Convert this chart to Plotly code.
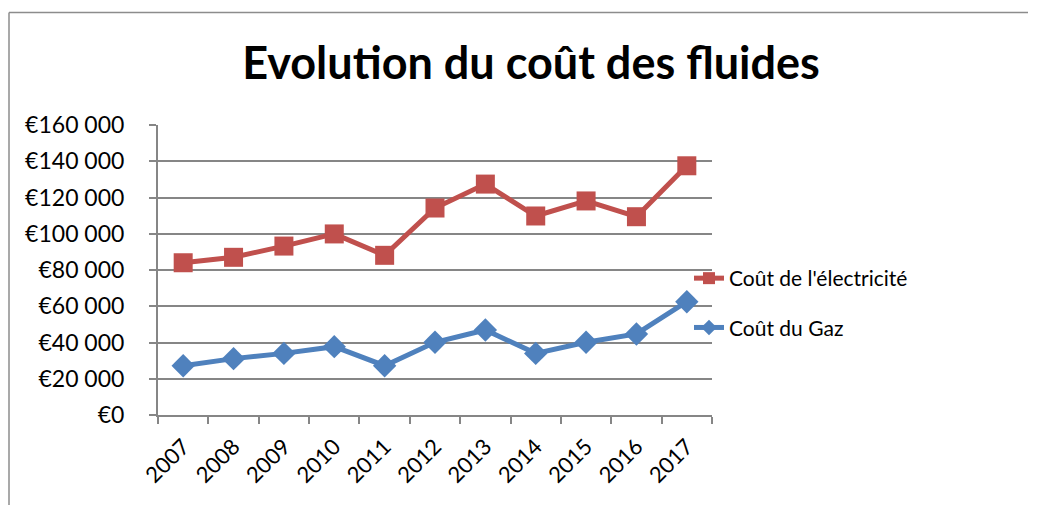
import plotly.graph_objects as go

years = ["2007", "2008", "2009", "2010", "2011", "2012", "2013", "2014", "2015", "2016", "2017"]
elec = [84000, 87000, 93200, 99900, 88100, 114200, 127400, 109800, 118100, 109400, 137500]
gaz = [27200, 31100, 34000, 37700, 27200, 40100, 46900, 34000, 40100, 44700, 62500]
ytick_vals = [0, 20000, 40000, 60000, 80000, 100000, 120000, 140000, 160000]
ytick_text = ["€0", "€20 000", "€40 000", "€60 000", "€80 000", "€100 000", "€120 000", "€140 000", "€160 000"]

FONT = "Lato"
GRID = "#868686"
OFF = 8  # page body margin

fig = go.Figure()
fig.add_trace(go.Scatter(
    x=years, y=elec, name="Coût de l'électricité", mode="lines+markers",
    legendgroup="e",
    line=dict(color="#C0504D", width=5),
    marker=dict(symbol="square", size=19, color="#C0504D"),
))
fig.add_trace(go.Scatter(
    x=years, y=gaz, name="Coût du Gaz", mode="lines+markers",
    legendgroup="g",
    line=dict(color="#4F81BD", width=5),
    marker=dict(symbol="diamond", size=18, color="#4F81BD"),
))

# reference-space plot area
L, R, T, B = 158, 712, 125, 415
W, H = 1040 - OFF, 505 - OFF
pw, ph = R - L, B - T

def px(x):
    return (x - L) / pw

def py(y):
    return (B - y) / ph

border = dict(color="#8c8c8c", width=1.5)

fig.update_layout(
    width=W, height=H,
    margin=dict(l=L - OFF, r=W - (R - OFF), t=T - OFF, b=H - (B - OFF), pad=0, autoexpand=False),
    paper_bgcolor="white", plot_bgcolor="white",
    font=dict(family=FONT, size=22, color="black"),
    title=dict(text="<b>Evolution du coût des fluides</b>", x=(531 - OFF) / W, xanchor="center",
               xref="container", y=1 - (63 - OFF) / H, yanchor="middle", yref="container",
               font=dict(family=FONT, size=45, color="black")),
    showlegend=True,
    legend=dict(x=px(689), xanchor="left", y=py(303), yanchor="middle",
                font=dict(family=FONT, size=21, color="black"),
                traceorder="grouped", tracegroupgap=19,
                bgcolor="rgba(0,0,0,0)", itemsizing="constant"),
    xaxis=dict(type="category", range=[-0.5, 10.5], showgrid=False,
               showline=True, linecolor=GRID, linewidth=2,
               ticks="outside", tickson="boundaries", ticklen=7, tickwidth=2, tickcolor=GRID,
               ticklabelstandoff=8,
               tickangle=-45, tickfont=dict(family=FONT, size=22, color="black")),
    yaxis=dict(range=[0, 160000], tickvals=ytick_vals, ticktext=ytick_text,
               showgrid=True, gridcolor=GRID, gridwidth=2,
               showline=True, linecolor=GRID, linewidth=2, zeroline=False,
               ticks="outside", ticklen=7, tickwidth=2, tickcolor=GRID,
               ticklabelstandoff=20,
               tickfont=dict(family=FONT, size=23, color="black")),
    shapes=[
        dict(type="line", xref="paper", yref="paper", x0=px(9), x1=px(9), y0=py(505), y1=py(12.5),
             line=border, layer="above"),
        dict(type="line", xref="paper", yref="paper", x0=px(9), x1=px(1028), y0=py(12.5), y1=py(12.5),
             line=border, layer="above"),
    ],
)

fig.write_html("out.html", config={"displayModeBar": False})
